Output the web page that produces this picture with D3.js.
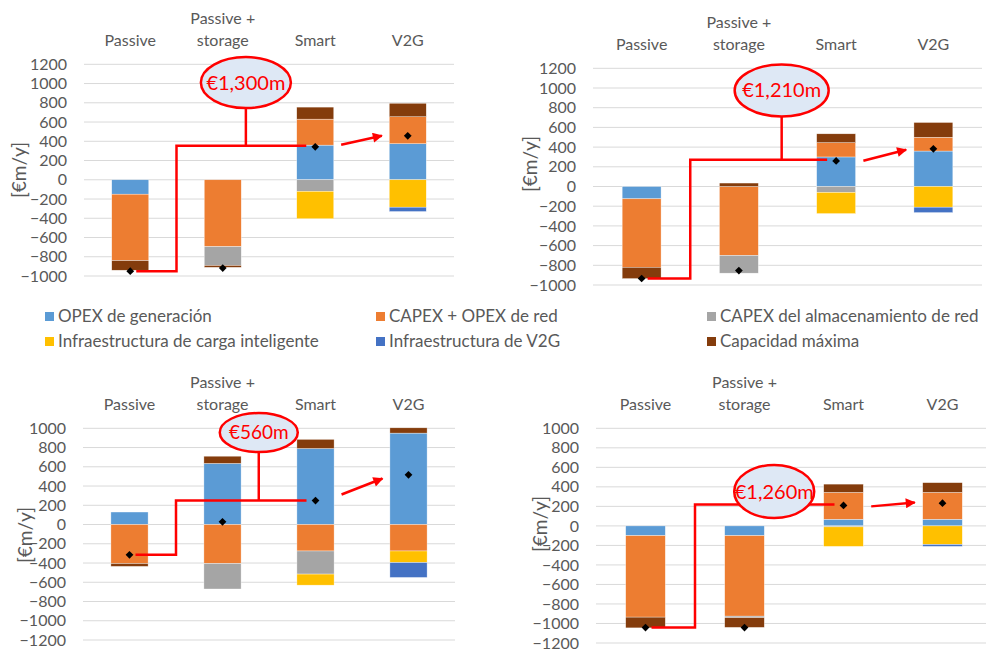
<!DOCTYPE html>
<html>
<head>
<meta charset="utf-8">
<script src="https://cdn.jsdelivr.net/npm/d3@7"></script>
<style>
  body { margin: 0; background: #fff; }
  svg { display: block; font-family: Lato, "Open Sans", sans-serif; }
</style>
</head>
<body>
<svg id="chart" width="986" height="651"></svg>
<script>
// categories and series
var categories = ["Passive", "Passive + storage", "Smart", "V2G"];
var seriesKeys = ["opex", "grid", "storage", "smart", "v2g", "peak"];
var seriesNames = ["OPEX de generación", "CAPEX + OPEX de red", "CAPEX del almacenamiento de red",
                   "Infraestructura de carga inteligente", "Infraestructura de V2G", "Capacidad máxima"];
var seriesColors = ["#5B9BD5", "#ED7D31", "#A5A5A5", "#FFC000", "#4472C4", "#843C0C"];

// values per panel [Passive, Passive + storage, Smart, V2G] in €m/y
var opexA    = [-150, 0, 360, 375];
var gridA    = [-690, -695, 270, 280];
var storageA = [0, -195, -120, 0];
var smartA   = [0, 0, -285, -285];
var v2gA     = [0, 0, 0, -45];
var peakA    = [-100, -20, 125, 140];
var netA     = [-950, -917, 343, 457];

var opexB    = [-125, 0, 300, 360];
var gridB    = [-695, -700, 145, 140];
var storageB = [0, -180, -60, 0];
var smartB   = [0, 0, -215, -210];
var v2gB     = [0, 0, 0, -55];
var peakB    = [-115, 35, 90, 150];
var netB     = [-934, -853, 260, 382];

var opexC    = [130, 635, 790, 950];
var gridC    = [-405, -405, -275, -275];
var storageC = [0, -265, -240, 0];
var smartC   = [0, 0, -115, -120];
var v2gC     = [0, 0, 0, -155];
var peakC    = [-30, 75, 95, 55];
var netC     = [-315, 28, 249, 516];

var opexD    = [-100, -100, 68, 68];
var gridD    = [-835, -825, 275, 275];
var storageD = [0, -15, -10, 0];
var smartD   = [0, 0, -200, -190];
var v2gD     = [0, 0, 0, -20];
var peakD    = [-110, -100, 85, 100];
var netD     = [-1042, -1042, 210, 233];

// call-outs: saving label, bubble position (category index, value), elbow level, arrow values
var savingLabels = ["€1,300m", "€1,210m", "€560m", "€1,260m"];
var bubbleCat    = [1.25, 1.44, 1.39, 1.30];
var bubbleValue  = [1010, 975, 956, 352];
var elbowLevel   = [353, 271, 250, 220];
var arrowFrom    = [364, 261, 312, 200];
var arrowTo      = [457, 373, 478, 240];

var yDomains = [[-1000, 1200], [-1000, 1200], [-1200, 1000], [-1200, 1000]];

// panel layout
var panels = [
  { left: 84,  right: 454, top: 64.3,  bottom: 276, labX: 19,  labY: 170, rx: 45, ry: 25.5, fs: 20,
    values: [opexA, gridA, storageA, smartA, v2gA, peakA], net: netA },
  { left: 593, right: 982, top: 68.3,  bottom: 285, labX: 530, labY: 164, rx: 47, ry: 26, fs: 20,
    values: [opexB, gridB, storageB, smartB, v2gB, peakB], net: netB },
  { left: 83,  right: 455, top: 428.3, bottom: 640, labX: 25,  labY: 535, rx: 39, ry: 19.5, fs: 19,
    values: [opexC, gridC, storageC, smartC, v2gC, peakC], net: netC },
  { left: 596, right: 992, top: 428.3, bottom: 643, labX: 540, labY: 524, rx: 40, ry: 26.5, fs: 20,
    values: [opexD, gridD, storageD, smartD, v2gD, peakD], net: netD }
];

var textColor = "#595959";
var svg = d3.select("#chart");

svg.append("defs").append("marker")
    .attr("id", "arrowhead")
    .attr("viewBox", "0 0 10 10")
    .attr("refX", 9).attr("refY", 5)
    .attr("markerWidth", 4.5).attr("markerHeight", 4)
    .attr("orient", "auto")
    .attr("markerUnits", "strokeWidth")
  .append("path")
    .attr("d", "M0,0 L10,5 L0,10 z")
    .attr("fill", "#FF0000");

panels.forEach(function(p, pi) {
    var g = svg.append("g");

    var x = d3.scaleBand().domain(categories)
        .range([p.left, p.right]).paddingInner(0.6).paddingOuter(0.3);
    var y = d3.scaleLinear().domain(yDomains[pi]).range([p.bottom, p.top]);
    var step = x.step();
    function cx(i) { return x(categories[i]) + x.bandwidth() / 2; }

    // gridlines
    var ticks = d3.range(yDomains[pi][0], yDomains[pi][1] + 1, 200);
    g.selectAll(".grid").data(ticks).enter().append("line")
        .attr("x1", p.left).attr("x2", Math.min(p.right, 986))
        .attr("y1", function(d) { return y(d); })
        .attr("y2", function(d) { return y(d); })
        .attr("stroke", "#D9D9D9").attr("stroke-width", 1);

    // y axis tick labels
    var axis = g.append("g")
        .attr("transform", "translate(" + p.left + ",0)")
        .call(d3.axisLeft(y).tickValues(ticks).tickSize(0).tickPadding(17).tickFormat(d3.format("d")));
    axis.select(".domain").remove();
    axis.selectAll("text").attr("fill", textColor).style("font-size", "16px")
        .style("font-family", "Lato, sans-serif");

    // y axis title
    g.append("text")
        .attr("transform", "translate(" + p.labX + "," + p.labY + ") rotate(-90)")
        .attr("text-anchor", "middle").attr("dy", "0.35em")
        .attr("fill", textColor).style("font-size", "19px")
        .text("[€m/y]");

    // category labels on top
    categories.forEach(function(c, i) {
        var lines = c.indexOf("+") > 0 ? [c.slice(0, c.indexOf("+") + 1), c.slice(c.indexOf("+") + 2)] : [c];
        lines.forEach(function(t, li) {
            g.append("text")
                .attr("x", cx(i))
                .attr("y", p.top - 18 - (lines.length - 1 - li) * 22.5)
                .attr("text-anchor", "middle")
                .attr("fill", textColor).style("font-size", "16px")
                .text(t);
        });
    });

    // stacked bars
    var rows = categories.map(function(c, i) {
        var r = { cat: c };
        seriesKeys.forEach(function(k, si) { r[k] = p.values[si][i]; });
        return r;
    });
    var stacked = d3.stack().keys(seriesKeys).offset(d3.stackOffsetDiverging)(rows);

    g.selectAll(".series").data(stacked).enter().append("g")
        .attr("fill", function(d, i) { return seriesColors[i]; })
      .selectAll("rect").data(function(d) { return d; }).enter().append("rect")
        .attr("x", function(d) { return x(d.data.cat); })
        .attr("width", x.bandwidth())
        .attr("y", function(d) { return y(Math.max(d[0], d[1])); })
        .attr("height", function(d) { return Math.abs(y(d[0]) - y(d[1])); })
        .attr("stroke", "#fff").attr("stroke-width", function(d) { return d[1] - d[0] === 0 ? 0 : 0.5; })
        .attr("stroke-opacity", 0.7);

    // elbow connector from Passive to Smart
    var midX = x(categories[0]) + x.bandwidth() / 2 + step / 2;
    var levelY = y(elbowLevel[pi]);
    g.append("path")
        .attr("d", "M" + (cx(0) + 6) + "," + y(p.net[0]) + "H" + midX + "V" + levelY + "H" + (cx(2) - 9))
        .attr("fill", "none").attr("stroke", "#FF0000").attr("stroke-width", 2.5)
        .attr("stroke-linejoin", "miter");

    // bubble
    var bx = cx(1) + (bubbleCat[pi] - 1) * step;
    var by = y(bubbleValue[pi]);
    if (by + p.ry < levelY) {
        g.append("line")
            .attr("x1", bx).attr("x2", bx)
            .attr("y1", by + p.ry).attr("y2", levelY)
            .attr("stroke", "#FF0000").attr("stroke-width", 2.5);
    }
    g.append("ellipse")
        .attr("cx", bx).attr("cy", by).attr("rx", p.rx).attr("ry", p.ry)
        .attr("fill", "#DEE8F5").attr("stroke", "#FF0000").attr("stroke-width", 2.5);
    g.append("text")
        .attr("x", bx).attr("y", by).attr("dy", "0.35em")
        .attr("text-anchor", "middle")
        .attr("fill", "#FF0000").style("font-size", p.fs + "px")
        .text(savingLabels[pi]);

    // arrow Smart -> V2G
    g.append("line")
        .attr("x1", cx(2) + step * 0.28).attr("y1", y(arrowFrom[pi]))
        .attr("x2", cx(3) - step * 0.28).attr("y2", y(arrowTo[pi]))
        .attr("stroke", "#FF0000").attr("stroke-width", 2.5)
        .attr("marker-end", "url(#arrowhead)");

    // net markers
    g.selectAll(".net").data(p.net).enter().append("path")
        .attr("transform", function(d, i) { return "translate(" + cx(i) + "," + y(d) + ") rotate(45)"; })
        .attr("d", d3.symbol().type(d3.symbolSquare).size(30))
        .attr("fill", "#000");
});

// legend
var legendCols = [45, 376, 707];
var legendRows = [316.5, 341.5];
var legend = svg.append("g");
seriesNames.forEach(function(name, i) {
    var lx = legendCols[i % 3], ly = legendRows[Math.floor(i / 3)];
    legend.append("rect")
        .attr("x", lx).attr("y", ly - 4.5).attr("width", 9).attr("height", 9)
        .attr("fill", seriesColors[i]);
    legend.append("text")
        .attr("x", lx + 13).attr("y", ly).attr("dy", "0.35em")
        .attr("fill", textColor).style("font-size", "17px")
        .text(name);
});
</script>
</body>
</html>
